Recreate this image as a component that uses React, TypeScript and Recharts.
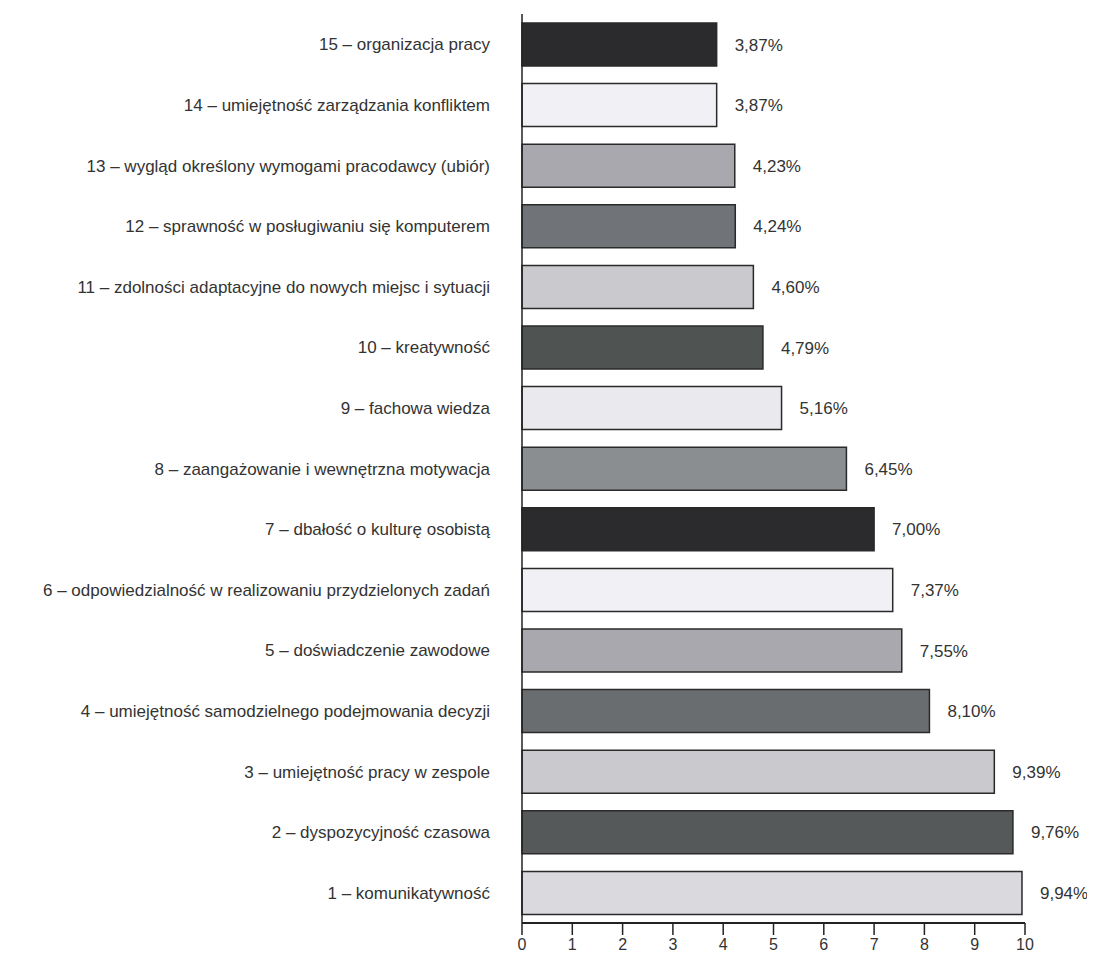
import { BarChart, Bar, XAxis, YAxis, Cell, LabelList } from "recharts";

const categories = [
  "15 – organizacja pracy",
  "14 – umiejętność zarządzania konfliktem",
  "13 – wygląd określony wymogami pracodawcy (ubiór)",
  "12 – sprawność w posługiwaniu się komputerem",
  "11 – zdolności adaptacyjne do nowych miejsc i sytuacji",
  "10 – kreatywność",
  "9 – fachowa wiedza",
  "8 – zaangażowanie i wewnętrzna motywacja",
  "7 – dbałość o kulturę osobistą",
  "6 – odpowiedzialność w realizowaniu przydzielonych zadań",
  "5 – doświadczenie zawodowe",
  "4 – umiejętność samodzielnego podejmowania decyzji",
  "3 – umiejętność pracy w zespole",
  "2 – dyspozycyjność czasowa",
  "1 – komunikatywność",
];

const values = [3.87, 3.87, 4.23, 4.24, 4.6, 4.79, 5.16, 6.45, 7.0, 7.37, 7.55, 8.1, 9.39, 9.76, 9.94];

const xTicks = [0, 1, 2, 3, 4, 5, 6, 7, 8, 9, 10];

// scanned grey fills, top to bottom
const fills = [
  "#2b2b2d", "#f1f0f4", "#a8a8ae", "#707377", "#c9c9ce",
  "#4f5352", "#e9e9ee", "#8a8e91", "#2b2b2d", "#f1f0f4",
  "#a8a8ae", "#6a6d70", "#c9c9ce", "#55595a", "#d9d9de",
];

const data = categories.map((c, i) => ({ name: c, value: values[i] }));

const fmt = (v: number) => v.toFixed(2).replace(".", ",") + "%";

const font = "Liberation Sans, Arial, sans-serif";

export default function App() {
  return (
    <BarChart
      width={1087}
      height={946}
      data={data}
      layout="vertical"
      margin={{ top: 6, right: 70, bottom: 0, left: 0 }}
      barSize={43}
    >
      <XAxis
        type="number"
        domain={[0, 10]}
        ticks={xTicks}
        axisLine={{ stroke: "#222", strokeWidth: 2 }}
        tickLine={{ stroke: "#222", strokeWidth: 1.5 }}
        tickSize={12}
        tickMargin={4}
        height={31}
        tick={{ fill: "#333", fontSize: 16, fontFamily: font }}
      />
      <YAxis
        type="category"
        dataKey="name"
        width={514}
        axisLine={{ stroke: "#222", strokeWidth: 1.5 }}
        tickLine={false}
        tickSize={0}
        tickMargin={32}
        interval={0}
        tick={{ fill: "#333", fontSize: 17, fontFamily: font }}
      />
      <Bar dataKey="value" stroke="#2a2a2a" strokeWidth={1.5} isAnimationActive={false}>
        {data.map((d, i) => (
          <Cell key={d.name} fill={fills[i]} />
        ))}
        <LabelList
          dataKey="value"
          position="right"
          offset={18}
          formatter={(v: any) => fmt(Number(v))}
          style={{ fill: "#333", fontSize: 17, fontFamily: font }}
        />
      </Bar>
    </BarChart>
  );
}
